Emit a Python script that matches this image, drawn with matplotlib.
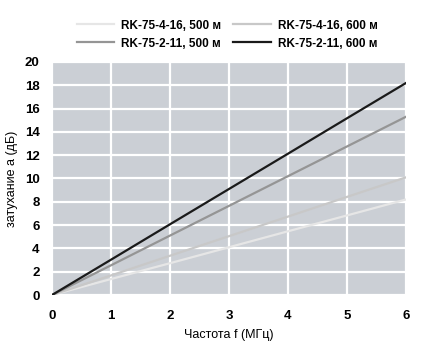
import matplotlib.pyplot as plt

# частота, МГц
freq = [0, 1, 2, 3, 4, 5, 6]

# затухание, дБ
rk416_500 = [0, 1.37, 2.73, 4.1, 5.47, 6.83, 8.2]
rk416_600 = [0, 1.68, 3.37, 5.05, 6.73, 8.42, 10.1]
rk211_500 = [0, 2.55, 5.1, 7.65, 10.2, 12.75, 15.3]
rk211_600 = [0, 3.03, 6.07, 9.1, 12.13, 15.17, 18.2]

labels = ['RK-75-4-16, 500 м', 'RK-75-4-16, 600 м',
          'RK-75-2-11, 500 м', 'RK-75-2-11, 600 м']

plt.rcParams['font.family'] = ['Liberation Sans', 'DejaVu Sans']

fig = plt.figure(figsize=(4.25, 3.52), dpi=100)
ax = fig.add_axes([52/425, 1-295/352, 354/425, 233/352])
ax.set_facecolor('#cbcfd5')

l1, = ax.plot(freq, rk416_500, color='#e6e6e6', lw=1.6, label=labels[0])
l2, = ax.plot(freq, rk416_600, color='#c8c8c8', lw=1.6, label=labels[1])
l3, = ax.plot(freq, rk211_500, color='#959595', lw=1.6, label=labels[2])
l4, = ax.plot(freq, rk211_600, color='#1a1a1a', lw=1.6, label=labels[3])

ax.set_xlim(0, 6)
ax.set_ylim(0, 20)
ax.set_xticks(range(0, 7))
ax.set_yticks(range(0, 21, 2))
ax.grid(True, color='white', lw=1.6)
ax.set_axisbelow(True)
for s in ax.spines.values():
    s.set_visible(False)
ax.tick_params(length=0, labelsize=9.5)
ax.tick_params(axis='x', pad=11)
ax.tick_params(axis='y', pad=9)
for t in ax.get_xticklabels() + ax.get_yticklabels():
    t.set_fontweight('bold')

ax.set_xlabel('Частота f (МГц)', fontsize=9, labelpad=5)
ax.set_ylabel('затухание а (дБ)', fontsize=9, labelpad=5)

fig.legend([l1, l3, l2, l4], [labels[0], labels[2], labels[1], labels[3]],
           ncol=2, frameon=False, loc='upper left', bbox_to_anchor=(66/425, 1-9/352),
           prop={'weight': 'bold', 'size': 8.5}, handlelength=3.2,
           handletextpad=0.6, columnspacing=1.0, labelspacing=0.5)

fig.savefig('out.png', dpi=100)
